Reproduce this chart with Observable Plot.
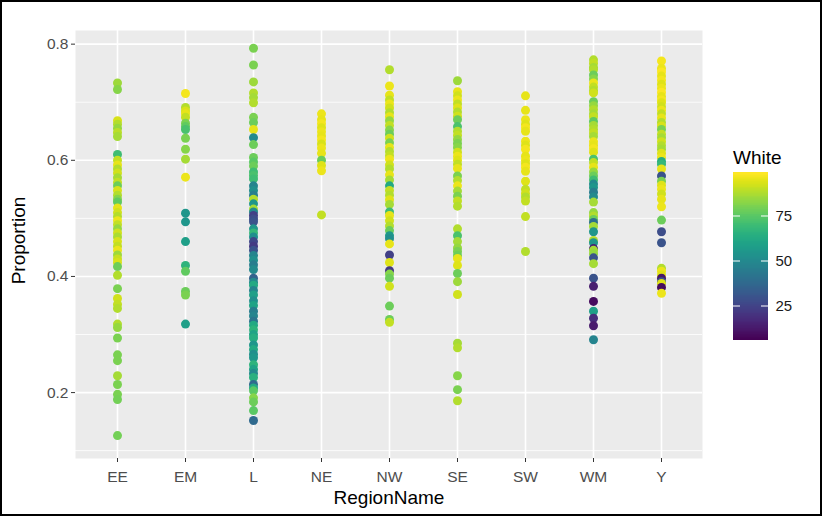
<!DOCTYPE html>
<html><head><meta charset="utf-8">
<script src="https://cdn.jsdelivr.net/npm/d3@7"></script>
<script src="https://cdn.jsdelivr.net/npm/@observablehq/plot@0.6"></script>
<style>
body{margin:0;background:#fff;font-family:"Liberation Sans",Arial,sans-serif;}
#frame{position:absolute;left:0;top:0;width:822px;height:516px;border:2px solid #000;box-sizing:border-box;pointer-events:none;}
#main{position:absolute;left:0;top:0;}
#legend{position:absolute;left:733px;top:173px;}
#ltitle{position:absolute;left:733px;top:147px;font-size:19px;color:#000;line-height:normal;}
</style></head><body>
<div id="main"></div><div id="ltitle">White</div><div id="legend"></div><div id="frame"></div>
<script>
// [Proportion, White] per region
const EE = [[0.733,85],[0.722,82],[0.668,93],[0.662,88],[0.655,84],[0.648,89],[0.641,86],[0.610,70],
[0.600,90],[0.592,95],[0.585,88],[0.578,92],[0.570,86],[0.562,90],[0.556,78],[0.548,93],[0.540,88],[0.533,82],[0.528,76],[0.518,95],[0.510,92],[0.503,88],[0.496,96],[0.489,90],[0.482,84],[0.475,92],[0.468,87],[0.460,93],[0.452,90],[0.445,96],[0.437,85],[0.430,91],[0.424,93],
[0.417,78],[0.402,88],[0.379,80],[0.362,92],[0.352,90],[0.345,88],[0.318,88],[0.312,84],[0.294,80],[0.265,80],[0.255,80],[0.229,86],[0.214,80],[0.197,80],[0.188,79],[0.126,79]];
const EM = [[0.715,97],[0.691,88],[0.685,93],[0.680,95],[0.674,90],[0.664,80],[0.658,76],[0.653,72],[0.638,80],[0.619,82],[0.602,86],[0.571,96],[0.509,55],[0.494,55],[0.460,58],[0.419,66],[0.409,76],[0.374,78],[0.368,80],[0.318,58]];
const L = [[0.793,80],[0.764,80],[0.735,85],[0.716,88],[0.708,86],[0.699,88],[0.674,80],[0.665,78],[0.653,95],[0.639,50],[0.627,78],
[0.605,78],[0.597,75],[0.590,78],[0.580,70],[0.574,72],[0.568,70],[0.556,48],[0.548,52],[0.540,46],[0.533,88],[0.525,55],[0.516,86],[0.511,50],[0.505,24],[0.499,28],[0.494,30],[0.482,55],[0.475,68],[0.468,52],[0.460,26],[0.452,22],[0.445,30],[0.436,48],[0.428,52],[0.420,45],[0.412,50],[0.397,35],[0.390,50],[0.385,62],[0.376,48],[0.368,58],[0.358,52],[0.350,60],[0.340,45],[0.332,48],[0.323,42],[0.316,62],[0.308,66],[0.300,60],[0.294,64],[0.282,55],[0.274,62],[0.266,52],[0.260,55],[0.248,66],[0.240,60],[0.233,50],[0.226,65],[0.214,38],[0.208,62],[0.203,75],[0.191,82],[0.184,78],[0.169,75],[0.152,38]];
const NE = [[0.680,96],[0.670,95],[0.663,97],[0.656,94],[0.649,96],[0.642,95],[0.635,97],[0.628,93],[0.621,96],[0.612,95],[0.600,78],[0.591,94],[0.582,96],[0.506,90]];
const NW = [[0.756,88],[0.728,96],[0.712,95],[0.704,90],[0.697,96],[0.690,92],[0.682,88],[0.675,95],[0.668,84],[0.660,90],[0.652,82],[0.645,78],[0.638,92],[0.630,80],[0.622,95],[0.615,88],[0.608,90],[0.602,96],[0.592,92],[0.585,88],[0.575,95],[0.566,86],[0.556,62],[0.548,90],[0.540,88],[0.532,94],[0.524,86],[0.511,70],[0.505,95],[0.496,92],[0.487,88],[0.479,78],[0.470,56],[0.465,52],[0.456,95],[0.437,24],[0.424,94],[0.410,22],[0.404,82],[0.397,78],[0.383,92],[0.349,78],[0.326,78],[0.321,90]];
const SE = [[0.737,85],[0.718,95],[0.711,92],[0.704,96],[0.697,90],[0.690,94],[0.683,88],[0.676,92],[0.670,78],[0.658,72],[0.650,88],[0.643,90],[0.636,84],[0.629,80],[0.622,82],[0.614,92],[0.607,96],[0.600,94],[0.593,90],[0.586,95],[0.573,80],[0.565,88],[0.556,96],[0.547,86],[0.538,80],[0.530,90],[0.521,88],[0.482,88],[0.470,72],[0.460,86],[0.449,84],[0.443,80],[0.436,78],[0.431,95],[0.419,94],[0.405,78],[0.391,85],[0.369,92],[0.285,86],[0.277,88],[0.229,82],[0.205,80],[0.186,88]];
const SW = [[0.711,95],[0.686,95],[0.670,96],[0.662,94],[0.656,97],[0.650,95],[0.633,96],[0.626,94],[0.619,97],[0.607,95],[0.600,96],[0.594,94],[0.588,97],[0.581,95],[0.564,94],[0.550,90],[0.543,92],[0.537,88],[0.530,90],[0.503,90],[0.443,88]];
const WM = [[0.773,88],[0.767,90],[0.760,86],[0.756,88],[0.747,78],[0.740,82],[0.733,96],[0.726,90],[0.720,88],[0.716,92],[0.701,78],[0.694,84],[0.687,88],[0.680,86],[0.675,90],[0.667,76],[0.660,86],[0.653,88],[0.647,90],[0.641,86],[0.632,96],[0.626,95],[0.620,97],[0.614,94],[0.602,72],[0.596,90],[0.588,95],[0.580,84],[0.573,78],[0.566,70],[0.559,50],[0.553,55],[0.545,45],[0.537,50],[0.528,86],[0.510,84],[0.504,88],[0.498,78],[0.493,40],[0.486,86],[0.477,55],[0.462,88],[0.458,55],[0.448,15],[0.445,86],[0.439,84],[0.432,30],[0.422,86],[0.397,30],[0.383,14],[0.357,9],[0.340,58],[0.328,18],[0.315,13],[0.291,48]];
const Y = [[0.771,97],[0.758,96],[0.752,98],[0.745,95],[0.738,97],[0.731,94],[0.724,96],[0.717,98],[0.710,95],[0.704,97],[0.699,94],[0.692,92],[0.686,96],[0.680,90],[0.673,95],[0.665,88],[0.659,93],[0.653,80],[0.645,90],[0.639,86],[0.632,92],[0.625,88],[0.619,86],[0.612,94],[0.605,96],[0.598,64],[0.593,68],[0.585,95],[0.573,30],[0.564,80],[0.557,94],[0.550,96],[0.542,92],[0.533,95],[0.520,96],[0.497,78],[0.477,28],[0.458,30],[0.414,88],[0.409,96],[0.402,94],[0.397,12],[0.391,30],[0.388,94],[0.381,9],[0.371,96]];

const regions = ["EE","EM","L","NE","NW","SE","SW","WM","Y"];
const yTicks = [0.2, 0.4, 0.6, 0.8];
const yMinor = [0.1, 0.3, 0.5, 0.7];
const whiteTicks = [25, 50, 75];
const whiteDomain = [6.4, 98.6];
const yDomain = [0.0865, 0.8235];

const byRegion = {EE, EM, L, NE, NW, SE, SW, WM, Y};
const data = regions.flatMap(r => byRegion[r].map(([p, w]) => ({region: r, prop: p, white: w})));
const font = "Liberation Sans, Arial, Helvetica, sans-serif";

const chart = Plot.plot({
  width: 720, height: 512,
  marginLeft: 75, marginRight: 18, marginTop: 30, marginBottom: 54,
  style: {fontFamily: font, background: "transparent", color: "#4D4D4D"},
  x: {type: "point", domain: regions, padding: 0.6},
  y: {domain: yDomain},
  color: {type: "linear", scheme: "viridis", domain: whiteDomain},
  marks: [
    Plot.frame({fill: "#EBEBEB", stroke: "none"}),
    Plot.gridY(yMinor, {stroke: "white", strokeOpacity: 1, strokeWidth: 0.8}),
    Plot.gridY(yTicks, {stroke: "white", strokeOpacity: 1, strokeWidth: 1.6}),
    Plot.gridX(regions, {stroke: "white", strokeOpacity: 1, strokeWidth: 1.6}),
    Plot.dot(data, {x: d => d.region, y: d => d.prop, fill: d => d.white, r: 4.5, stroke: "none"}),
    Plot.axisY(yTicks, {tickSize: 4, tickPadding: 3, tickFormat: d => d.toFixed(1), fontSize: 15.5, label: null, stroke: "#333333", fill: "#4D4D4D"}),
    Plot.axisX(regions, {tickSize: 4, tickPadding: 8, fontSize: 15.5, label: null, stroke: "#333333", fill: "#4D4D4D"}),
    Plot.text(["Proportion"], {text: d => d, frameAnchor: "left", textAnchor: "middle", dx: -57, dy: -4, rotate: -90, fontSize: 19, fill: "black"}),
    Plot.text(["RegionName"], {text: d => d, frameAnchor: "bottom", dy: 45, fontSize: 19, fill: "black"})
  ]
});
document.getElementById("main").appendChild(chart);

const step = 0.5;
const stripes = d3.range(whiteDomain[0], whiteDomain[1], step);
const legend = Plot.plot({
  width: 80, height: 166,
  marginTop: 0, marginBottom: 0, marginLeft: 0, marginRight: 45,
  style: {fontFamily: font, background: "transparent", color: "#1A1A1A", overflow: "visible"},
  x: {domain: [0, 1], axis: null},
  y: {domain: whiteDomain, axis: null},
  color: {type: "linear", scheme: "viridis", domain: whiteDomain},
  marks: [
    Plot.rect(stripes, {x1: 0, x2: 1, y1: d => d, y2: d => Math.min(d + step, whiteDomain[1]), fill: d => d, insetTop: -0.6, insetBottom: -0.6, shapeRendering: "crispEdges"}),
    Plot.ruleY(whiteTicks, {x1: 0, x2: 0.2, stroke: "white", strokeWidth: 1}),
    Plot.ruleY(whiteTicks, {x1: 0.8, x2: 1, stroke: "white", strokeWidth: 1}),
    Plot.axisY(whiteTicks, {anchor: "right", tickSize: 0, tickPadding: 7, fontSize: 15, label: null, fill: "#1A1A1A"})
  ]
});
document.getElementById("legend").appendChild(legend);
</script>
</body></html>
